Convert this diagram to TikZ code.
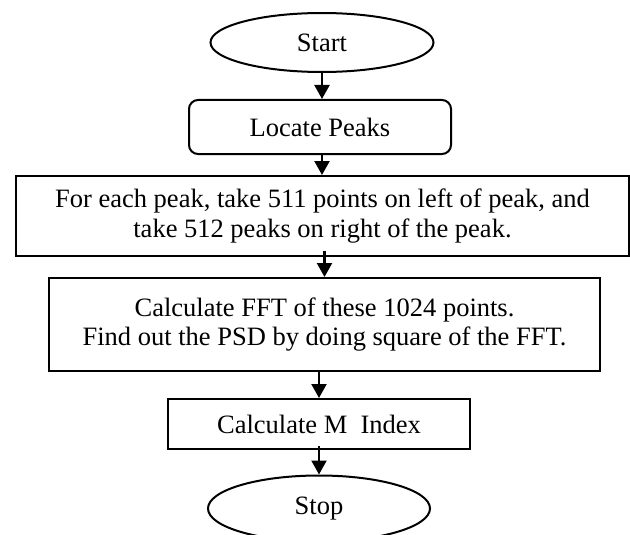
\documentclass[tikz,border=0pt]{standalone}
\usepackage{fontspec}
\setmainfont{Liberation Serif}
\usetikzlibrary{shapes.geometric,arrows.meta}
\tikzset{
  every node/.style={font=\fontsize{26.5}{29.5}\selectfont, inner sep=0pt, line width=2pt},
  term/.style={draw, ellipse},
  procbox/.style={draw, rectangle, align=center},
  roundbox/.style={draw, rectangle, rounded corners=9pt, align=center},
  flow/.style={draw, line width=2.2pt, -{Triangle[length=14pt,width=15pt]}}
}
\begin{document}
\begin{tikzpicture}[x=1pt,y=-1pt]
\useasboundingbox (0,0) rectangle (630,535);
\node[term, minimum width=223pt, minimum height=59pt] (start) at (322,42.5) {Start};
\node[roundbox, minimum width=262pt, minimum height=54pt] (locate) at (320,127) {Locate Peaks};
\node[procbox, minimum width=613pt, minimum height=80pt] (take) at (322.5,216) {For each peak, take 511 points on left of peak, and\\take 512 peaks on right of the peak.};
\node[procbox, minimum width=551pt, minimum height=93pt] (fft) at (324.5,324.5) {Calculate FFT of these 1024 points.\\Find out the PSD by doing square of the FFT.};
\node[procbox, minimum width=302pt, minimum height=50pt] (mindex) at (319,424) {Calculate M~ Index};
\node[term, minimum width=222pt, minimum height=66pt] (stop) at (319,508.5) {Stop};
\draw[flow] (start.south) -- (locate.north -| start.south);
\draw[flow] (locate.south -| start.south) -- (take.north -| start.south);
\draw[flow] ([xshift=2pt,yshift=6pt]take.south) -- ([xshift=2pt]fft.north -| take.south);
\draw[flow] (fft.south -| mindex.north) -- (mindex.north);
\draw[flow] ([yshift=4pt]mindex.south) -- (stop.north);
\end{tikzpicture}
\end{document}
